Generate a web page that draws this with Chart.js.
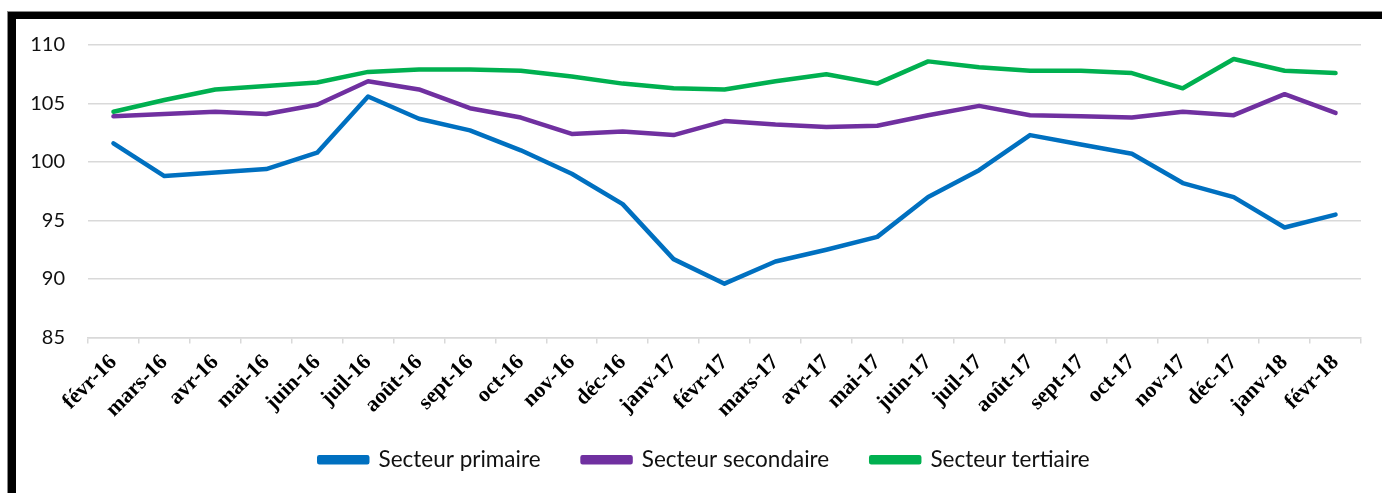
<!DOCTYPE html>
<html lang="fr">
<head>
<meta charset="utf-8">
<title>Secteurs</title>
<script src="https://cdn.jsdelivr.net/npm/chart.js@4/dist/chart.umd.min.js"></script>
<style>
  html, body { margin: 0; padding: 0; background: #fff; }
  body { width: 1382px; height: 493px; position: relative; overflow: hidden; }
  .frame {
    position: absolute; left: 8px; top: 12px; width: 1400px; height: 500px;
    border-left: 8px solid #000; border-top: 7px solid #000;
    box-shadow: -1px -1px 0 #888;
  }
  .wrap { position: absolute; left: 0; top: 0; width: 1382px; height: 493px; }
</style>
</head>
<body>
<div class="frame"></div>
<div class="wrap"><canvas id="chart"></canvas></div>
<script>
const months = [
  'févr-16', 'mars-16', 'avr-16', 'mai-16', 'juin-16', 'juil-16', 'août-16',
  'sept-16', 'oct-16', 'nov-16', 'déc-16', 'janv-17', 'févr-17', 'mars-17',
  'avr-17', 'mai-17', 'juin-17', 'juil-17', 'août-17', 'sept-17', 'oct-17',
  'nov-17', 'déc-17', 'janv-18', 'févr-18',
];

const primaire = [
  101.6, 98.8, 99.1, 99.4, 100.8, 105.6, 103.7, 102.7, 101.0, 99.0, 96.4, 91.7,
  89.6, 91.5, 92.5, 93.6, 97.0, 99.3, 102.3, 101.5, 100.7, 98.2, 97.0, 94.4, 95.5,
];

const secondaire = [
  103.9, 104.1, 104.3, 104.1, 104.9, 106.9, 106.2, 104.6, 103.8, 102.4, 102.6, 102.3,
  103.5, 103.2, 103.0, 103.1, 104.0, 104.8, 104.0, 103.9, 103.8, 104.3, 104.0, 105.8, 104.2,
];

const tertiaire = [
  104.3, 105.3, 106.2, 106.5, 106.8, 107.7, 107.9, 107.9, 107.8, 107.3, 106.7, 106.3,
  106.2, 106.9, 107.5, 106.7, 108.6, 108.1, 107.8, 107.8, 107.6, 106.3, 108.8, 107.8, 107.6,
];

const yTicks = [85, 90, 95, 100, 105, 110];

((document, Chart) => {
  const gridColor = '#d9d9d9';

  // the legend in the original sits a bit right of centre and closer to the axis
  const legendShift = {
    id: 'legendShift',
    afterLayout: (chart) => {
      const legend = chart.legend;
      legend.left += 24;
      legend.right += 24;
      legend.top -= 12;
      legend.bottom -= 12;
    },
  };

  const makeSeries = (label, data, color) => ({
    label,
    data,
    borderColor: color,
    backgroundColor: color,
    borderWidth: 4.5,
    borderCapStyle: 'round',
    borderJoinStyle: 'round',
    pointRadius: 0,
    tension: 0,
  });

  const init = () => {
    const canvas = document.getElementById('chart');
    canvas.width = 1382;
    canvas.height = 493;

    new Chart(canvas, {
      type: 'line',
      plugins: [legendShift],
      data: {
        labels: months,
        datasets: [
          makeSeries('Secteur primaire', primaire, '#0070c0'),
          makeSeries('Secteur secondaire', secondaire, '#7030a0'),
          makeSeries('Secteur tertiaire', tertiaire, '#00b050'),
        ],
      },
      options: {
        responsive: false,
        animation: false,
        layout: { padding: { left: 0, right: 21, top: 45, bottom: 0 } },
        plugins: {
          tooltip: { enabled: false },
          legend: {
            position: 'bottom',
            labels: {
              color: '#111',
              font: { family: 'Lato', size: 22.5 },
              boxWidth: 48,
              boxHeight: 5,
              padding: 42,
            },
          },
        },
        scales: {
          x: {
            offset: true,
            afterFit: (axis) => { axis.height = 81; },
            grid: {
              offset: true,
              drawOnChartArea: false,
              drawTicks: true,
              tickLength: 6,
              color: gridColor,
              lineWidth: 1.5,
            },
            border: { display: true, color: gridColor, width: 1.5 },
            ticks: {
              autoSkip: false,
              minRotation: 45,
              maxRotation: 45,
              padding: 6,
              color: '#000',
              font: { family: 'Liberation Serif', size: 22, weight: 'bold' },
            },
          },
          y: {
            min: 85,
            max: 110,
            afterFit: (axis) => { axis.width = 88; },
            afterBuildTicks: (axis) => { axis.ticks = yTicks.map((value) => ({ value })); },
            grid: { drawTicks: false, color: gridColor, lineWidth: 1.5 },
            border: { display: false },
            ticks: {
              padding: 23,
              color: '#111',
              font: { family: 'Lato', size: 20 },
            },
          },
        },
      },
    });
  };

  init();
})(document, Chart);
</script>
</body>
</html>
